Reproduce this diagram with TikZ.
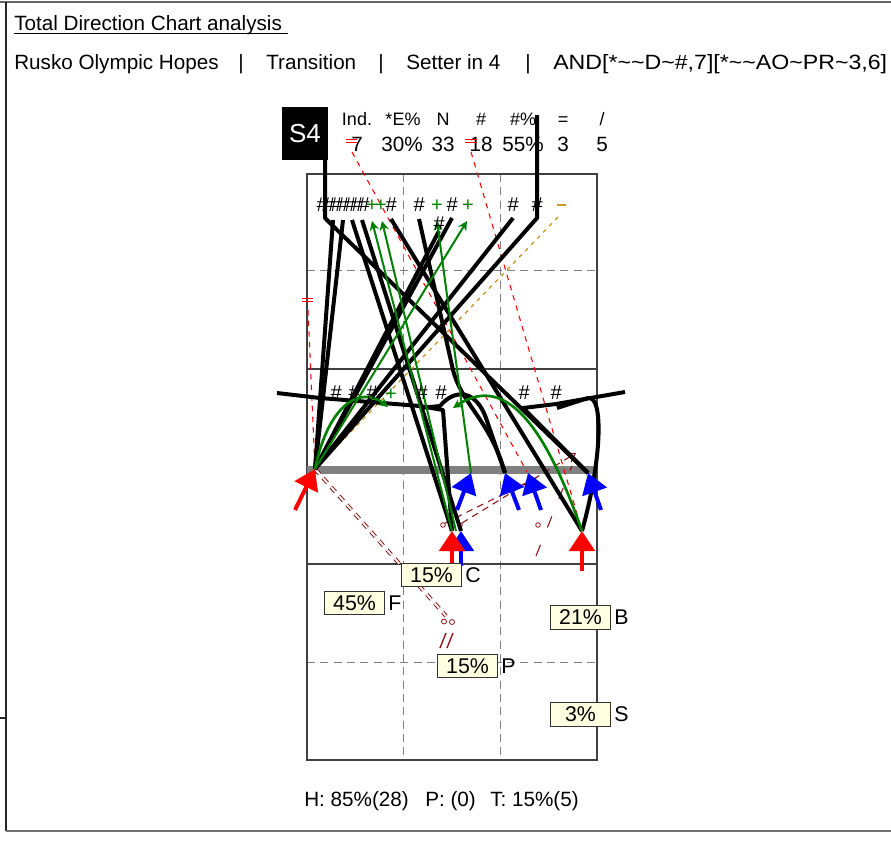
\documentclass[tikz,border=0pt]{standalone}
\usepackage{fontspec}
\usepackage{graphicx}
\setmainfont{Liberation Sans}
\usetikzlibrary{arrows.meta}
\definecolor{grn}{RGB}{0,128,0}
\definecolor{maroon}{RGB}{140,20,20}
\definecolor{gold}{RGB}{205,150,40}
\definecolor{netgray}{RGB}{128,128,128}
\definecolor{boxfill}{RGB}{255,255,225}
\definecolor{rd}{RGB}{255,0,0}
\definecolor{bl}{RGB}{0,0,255}
\begin{document}
\begin{tikzpicture}[x=0.75pt,y=-0.75pt,
  txt/.style={font=\fontsize{15.5}{18}\selectfont, inner sep=0pt},
  stat/.style={font=\fontsize{15.5}{18}\selectfont, inner sep=0pt, anchor=base},
  stathd/.style={font=\fontsize{13.5}{16}\selectfont, inner sep=0pt, anchor=base},
  courtline/.style={draw=black!75, line width=0.8pt},
  gridline/.style={draw=black!50, line width=0.7pt, dash pattern=on 6pt off 4pt},
  blk/.style={draw=black, line width=3pt, line join=round},
  grnl/.style={draw=grn, line width=1.5pt, -{Stealth[length=7pt,width=7pt]}},
  grnc/.style={draw=grn, line width=2pt},
  reddash/.style={draw=rd, line width=0.8pt, dash pattern=on 4pt off 4pt},
  golddash/.style={draw=gold, line width=1pt, dash pattern=on 3pt off 3.5pt},
  mdash/.style={draw=maroon, line width=0.8pt, dash pattern=on 5pt off 4pt},
  mdouble/.style={draw=maroon, line width=0.75pt, double=white, double distance=1.4pt, dash pattern=on 5pt off 4pt},
  bigred/.style={draw=rd, line width=3pt, -{Triangle[length=15pt,width=19pt]}},
  bigblue/.style={draw=bl, line width=3pt, -{Triangle[length=15pt,width=19pt]}},
  mk/.style={font=\itshape\fontsize{15}{15}\selectfont, inner sep=0pt},
  gmk/.style={font=\fontsize{15}{15}\selectfont, inner sep=0pt, text=grn},
  pbox/.style={draw=black!80, fill=boxfill, line width=0.8pt, minimum width=45.5pt, minimum height=17.5pt, inner sep=0pt, font=\fontsize{16}{18}\selectfont},
  plab/.style={font=\fontsize{16}{18}\selectfont, inner sep=0pt, anchor=west}
]
\useasboundingbox (0,0) rectangle (891,843);
\fill[white] (0,0) rectangle (891,843);
% outer frame
\draw[black!60, line width=0.8pt] (0,2) -- (891,2);
\draw[black!85, line width=0.8pt] (6,2) -- (6,831);
\draw[black!85, line width=0.8pt] (0,718) -- (6,718);
\draw[black!55, line width=1.6pt] (6,831) -- (891,831);
% header
\node[txt, anchor=base west] (title) at (14,30) {Total Direction Chart analysis};
\draw[black, line width=0.7pt] (14,33.5) -- (288,33.5);
\node[txt, anchor=base west] (team) at (14,69) {Rusko Olympic Hopes};
\node[txt, anchor=base] (sep1) at (241,69) {|};
\node[txt, anchor=base west] (phase) at (266,69) {Transition};
\node[txt, anchor=base] (sep2) at (381,69) {|};
\node[txt, anchor=base west] (setter) at (406,69) {Setter in 4};
\node[txt, anchor=base] (sep3) at (528,69) {|};
\node[txt, anchor=base west] (filter) at (553,69) {\scalebox{1.12}[1]{AND[*\textasciitilde\textasciitilde D\textasciitilde\#,7][*\textasciitilde\textasciitilde AO\textasciitilde PR\textasciitilde 3,6]}};
% S4 box
\node[fill=black, text=white, minimum width=34.5pt, minimum height=40pt, inner sep=0pt, font=\fontsize{19.5}{20}\selectfont] (s4) at (305,133.5) {S4};
% stats
\node[stathd] (h1) at (357,125) {Ind.};
\node[stathd] (h2) at (403,125) {*E\%};
\node[stathd] (h3) at (443,125) {N};
\node[stathd] (h4) at (481,125) {\#};
\node[stathd] (h5) at (523,125) {\#\%};
\node[stathd] (h6) at (563,125) {=};
\node[stathd] (h7) at (602,125) {/};
\node[stat] (v1) at (357,151) {7};
\node[stat] (v2) at (402,151) {30\%};
\node[stat] (v3) at (443,151) {33};
\node[stat] (v4) at (481,151) {18};
\node[stat] (v5) at (523,151) {55\%};
\node[stat] (v6) at (563,151) {3};
\node[stat] (v7) at (602,151) {5};
% court
\draw[gridline] (403,174) -- (403,760);
\draw[gridline] (500,174) -- (500,760);
\draw[gridline] (307,270) -- (597,270);
\draw[gridline] (307,662) -- (597,662);
\draw[courtline] (307,174) rectangle (597,760);
\draw[courtline] (307,369) -- (597,369);
\draw[courtline] (307,564) -- (597,564);
\draw[netgray, line width=5.5pt] (307,470) -- (597,470);
% key points
\coordinate (L) at (315,469);
\coordinate (C1) at (452,531);
\coordinate (C2) at (461,531);
\coordinate (R) at (582,531);
\coordinate (B1) at (471,473);
\coordinate (B2) at (505,473);
\coordinate (B3) at (528,473);
\coordinate (B4) at (588,473);
% red dashed
\draw[rd, line width=0.8pt] (346,139.5) -- (357,139.5) (346,142.5) -- (357,142.5);
\draw[rd, line width=0.8pt] (465,139.5) -- (477,139.5) (465,142.5) -- (477,142.5);
\draw[rd, line width=0.8pt] (302,298.5) -- (313,298.5) (302,301.5) -- (313,301.5);
\draw[reddash] (352,152) -- (527,472);
\draw[reddash] (471,152) -- (R);
\draw[reddash] (308,310) -- (L);
% gold dashed
\draw[gold, line width=1pt] (557,205) -- (566,205);
\draw[golddash] (558,217) -- (L);
% maroon
\draw[mdouble] (L) -- (446,616);
\draw[maroon, line width=0.6pt] (444,621.5) circle (2.5);
\draw[maroon, line width=0.6pt] (452,622) circle (2.5);
\draw[maroon, line width=1pt] (440,648) -- (446,633) (447,648) -- (453,633);
\draw[mdash] (445,523) -- (540,476);
\draw[mdash, -{Straight Barb[length=6pt,width=8pt]}] (462,523) -- (576,453);
\draw[mdash, dash pattern=on 9pt off 14pt] (536,556) -- (572,466);
\draw[maroon, line width=0.6pt] (443,525) circle (2.3) (460,525) circle (2.3) (538,525) circle (2.3);
% black attack lines
\draw[blk] (L) -- (537,218) -- (537,115);
\draw[blk] (L) -- (513,218);
\draw[blk] (L) -- (452,218);
\draw[blk] (L) -- (439,231);
\draw[blk] (L) -- (333,220);
\draw[blk] (L) -- (343,220);
\draw[blk] (325,160) -- (325,218) -- (333,226) -- (B4);
\draw[blk] (391,219) -- (R);
\draw[blk] (352,220) -- (C1);
\draw[blk] (362,220) -- (C2);
\draw[blk] (419,219) -- (453,370) .. controls (462,405) and (490,420) .. (B2);
\draw[blk] (C1) -- (443,410) -- (420,406) -- (320,398) -- (277,393);
\draw[blk] (B2) -- (486,418) .. controls (476,390) and (455,388) .. (440,406) -- (420,408);
\draw[blk] (R) .. controls (603,455) and (603,395) .. (588,398) -- (557,408);
\draw[blk] (B4) -- (523,408) -- (556,404) -- (625,392);
% green lines
\draw[grnl] (C1) -- (372,221);
\draw[grnl] (456,531) -- (382,221);
\draw[grnl] (B1) -- (437,221);
\draw[grnl] (L) -- (467,221);
\draw[grnc, -{Stealth[length=7pt,width=7pt]}] (L) .. controls (328,405) and (360,385) .. (388,407);
\draw[grnc, -{Stealth[length=7pt,width=7pt]}] (R) .. controls (550,440) and (510,370) .. (453,408);
% big arrows
\draw[bigblue] (461,566) -- (C2);
\draw[bigred] (452,566) -- (C1);
\draw[bigred] (582,571) -- (R);
\draw[bigred] (295,510) -- (L);
\draw[bigblue] (457,510) -- (B1);
\draw[bigblue] (519,510) -- (B2);
\draw[bigblue] (541,510) -- (B3);
\draw[bigblue] (601,510) -- (B4);
% markers far row
\foreach \x [count=\i] in {322,329,336,343,350,357,364}
  \node[mk] (fh\i) at (\x,205) {\#};
\node[gmk] (fp1) at (372,206) {+};
\node[gmk] (fp2) at (381,206) {+};
\node[mk] (fh8) at (391,205) {\#};
\node[mk] (fh9) at (419,205) {\#};
\node[gmk] (fp3) at (437,206) {+};
\node[mk] (fh10) at (452,205) {\#};
\node[gmk] (fp4) at (468,206) {+};
\node[mk] (fh11) at (513,205) {\#};
\node[mk] (fh12) at (537,205) {\#};
\node[mk] (fh13) at (439,224) {\#};
% markers near row
\node[mk] (nh1) at (336,393) {\#};
\node[mk] (nh2) at (354,393) {\#};
\node[mk] (nh3) at (372,393) {\#};
\node[gmk] (np1) at (391,395) {+};
\node[mk] (nh4) at (422,393) {\#};
\node[mk] (nh5) at (441,393) {\#};
\node[mk] (nh6) at (524,393) {\#};
\node[mk] (nh7) at (556,393) {\#};
% percentage boxes
\node[pbox] (bc) at (431.5,575) {15\%};
\node[plab] (lc) at (465,575) {C};
\node[pbox] (bf) at (354.5,603) {45\%};
\node[plab] (lf) at (388,603) {F};
\node[pbox] (bb) at (580.5,617.5) {21\%};
\node[plab] (lb) at (614,617.5) {B};
\node[pbox] (bp) at (467.5,666) {15\%};
\node[plab] (lp) at (501,666) {P};
\node[pbox] (bs) at (580.5,714.5) {3\%};
\node[plab] (ls) at (614,714.5) {S};
% footer
\node[txt, anchor=base west] (f1) at (304,806) {H: 85\%(28)};
\node[txt, anchor=base west] (f2) at (425,806) {P: (0)};
\node[txt, anchor=base west] (f3) at (490,806) {T: 15\%(5)};
\end{tikzpicture}
\end{document}
